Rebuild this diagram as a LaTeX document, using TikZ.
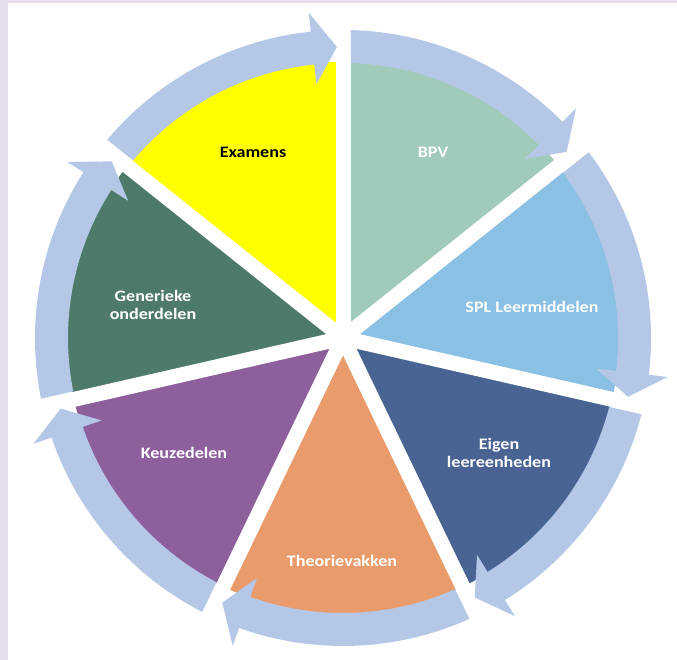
\documentclass[tikz,border=0pt]{standalone}
\usepackage{fontspec}
\newfontfamily\labfont[FakeStretch=1.13]{Carlito}
\definecolor{lav}{RGB}{230,222,238}
\definecolor{ring}{RGB}{180,199,231}
\definecolor{cExa}{RGB}{255,255,0}
\definecolor{cBPV}{RGB}{160,203,184}
\definecolor{cSPL}{RGB}{138,192,227}
\definecolor{cEig}{RGB}{73,100,147}
\definecolor{cThe}{RGB}{234,155,108}
\definecolor{cKeu}{RGB}{142,95,157}
\definecolor{cGen}{RGB}{78,122,106}
\tikzset{
  lab/.style={text=white, align=center, inner sep=0pt,
    font=\labfont\bfseries\fontsize{16}{18.5}\selectfont},
  gapline/.style={white, line width=15pt},
}
\begin{document}
\begin{tikzpicture}[x=1pt,y=1pt]
\useasboundingbox (0,0) rectangle (677,660);
\fill[white] (0,0) rectangle (677,660);
\fill[lav] (0,0) rectangle (8,660);
\fill[lav] (0,656.5) rectangle (677,660);
\begin{scope}[shift={(343,322)}]
  % pie sectors
  \foreach \c [count=\k from 0] in {cBPV,cSPL,cEig,cThe,cKeu,cGen,cExa} {
    \pgfmathsetmacro\a{90-\k*360/7}
    \pgfmathsetmacro\b{\a-360/7}
    \fill[\c] (0,0) -- (\a:276pt) arc[start angle=\a, end angle=\b, radius=276pt] -- cycle;
  }
  % white gaps between sectors
  \foreach \k in {0,...,6} {
    \pgfmathsetmacro\a{90-\k*360/7}
    \draw[gapline] (0,0) -- (\a:281pt);
  }
  % circular arrows
  \foreach \k in {0,...,6} {
    \pgfmathsetmacro\a{90-\k*360/7}
    \pgfmathsetmacro\b{\a-360/7}
    \pgfmathsetmacro\ao{\a-asin(8/308)}
    \pgfmathsetmacro\ai{\a-asin(8/275)}
    \pgfmathsetmacro\hb{\b+6}
    \pgfmathsetmacro\ht{\b+1.2}
    \fill[ring] (\ao:308pt) arc[start angle=\ao, end angle=\hb, radius=308pt]
      -- (\hb:327pt) -- (\ht:291pt) -- (\hb:255pt) -- (\hb:275pt)
      arc[start angle=\hb, end angle=\ai, radius=275pt] -- cycle;
  }
  % labels
  \node[lab, text=black] (exa) at (-90,186) {Examens};
  \node[lab] (bpv) at (90,186) {BPV};
  \node[lab] (spl) at (189,31) {SPL Leermiddelen};
  \node[lab] (eig) at (156,-115) {Eigen\\leereenheden};
  \node[lab] (the) at (-1,-223) {Theorievakken};
  \node[lab] (keu) at (-159,-115) {Keuzedelen};
  \node[lab] (gen) at (-190,33) {Generieke\\onderdelen};
\end{scope}
\end{tikzpicture}
\end{document}
